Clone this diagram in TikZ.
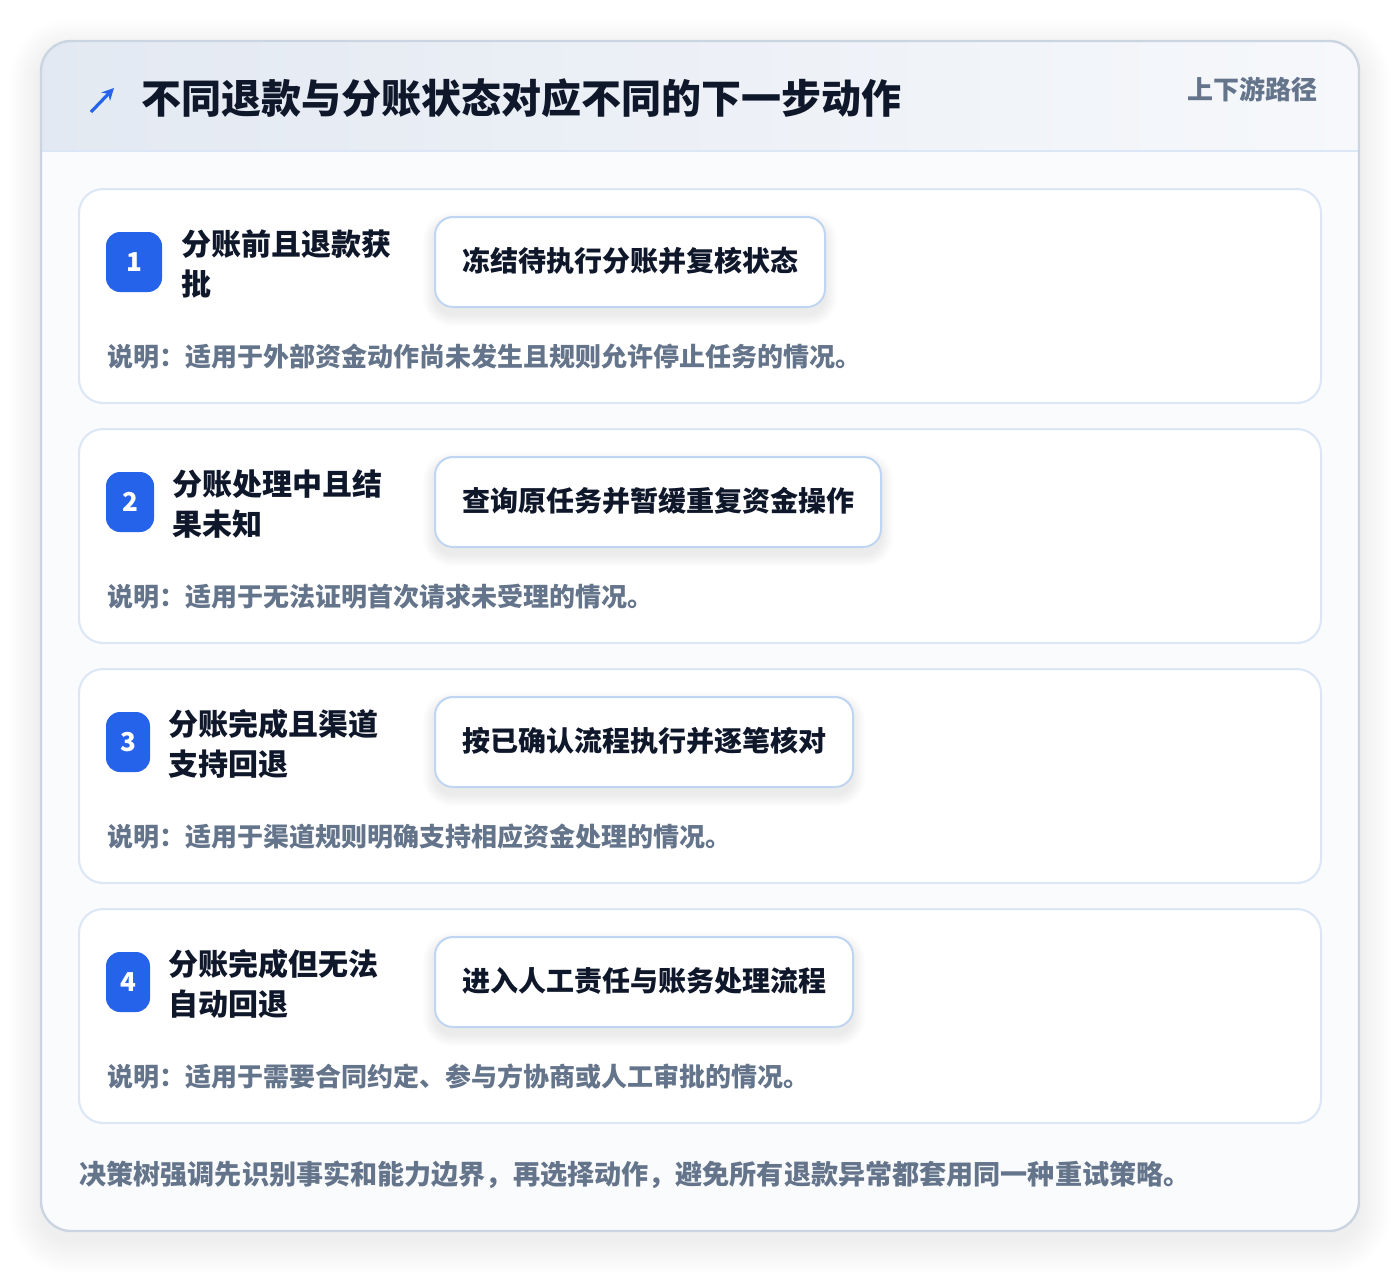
\documentclass[tikz,border=0pt]{standalone}
\usepackage{fontspec}
\setmainfont{Noto Sans CJK SC}
\usetikzlibrary{arrows.meta}
\definecolor{ink}{HTML}{0F172A}
\definecolor{muted}{HTML}{64748B}
\definecolor{badge}{HTML}{2563EB}
\definecolor{cardedge}{HTML}{CBD5E1}
\definecolor{rowedge}{HTML}{DBE7F7}
\definecolor{actedge}{HTML}{BFD5F2}
\definecolor{headL}{HTML}{E3E9F2}
\definecolor{headR}{HTML}{F6F8FB}
\definecolor{bodyfill}{HTML}{FAFBFD}
\definecolor{shadowc}{HTML}{334155}
\newcommand\mysoftshadow[5]{%
  \foreach \i in {1,...,10}{%
    \fill[shadowc, opacity=0.009, rounded corners={#5+\i*0.5pt}]
      ({#1-\i*1.2},{#2-\i*1.2+7}) rectangle ({#3+\i*1.2},{#4+\i*1.2+7});
  }%
}
\newcommand\mycardshadow[4]{%
  \foreach \i in {1,...,16}{%
    \fill[shadowc, opacity=0.0055, rounded corners={15pt+\i*1pt}]
      ({#1-\i*2},{#2-\i*2+10}) rectangle ({#3+\i*2},{#4+\i*2+10});
  }%
}
\tikzset{
  rowbox/.style={draw=rowedge, line width=1pt, fill=white, rounded corners=12pt},
  actbox/.style={draw=actedge, line width=1pt, fill=white, rounded corners=9pt},
  badgebox/.style={fill=badge, rounded corners=7pt},
  rowtitle/.style={anchor=west, inner sep=0pt, text=ink, font=\bfseries\fontsize{15pt}{20pt}\selectfont, align=left},
  acttext/.style={anchor=west, inner sep=0pt, text=ink, font=\bfseries\fontsize{14pt}{17pt}\selectfont},
  desctext/.style={anchor=west, inner sep=0pt, text=muted, font=\bfseries\fontsize{13pt}{15pt}\selectfont},
  numtext/.style={inner sep=0pt, text=white, font=\bfseries\fontsize{13pt}{14pt}\selectfont},
}
\begin{document}
\begin{tikzpicture}[x=0.5pt,y=-0.5pt]
\useasboundingbox (0,0) rectangle (1400,1274);
\fill[white] (0,0) rectangle (1400,1274);
% outer card shadow + card
\mycardshadow{41}{41}{1359}{1231}
\begin{scope}
\clip[rounded corners=15pt] (41,41) rectangle (1359,1231);
\fill[bodyfill] (41,41) rectangle (1359,1231);
\shade[left color=headL, right color=headR] (41,41) rectangle (1359,151);
\draw[rowedge, line width=1pt] (41,151) -- (1359,151);
\end{scope}
\draw[cardedge, line width=1.2pt, rounded corners=15pt] (41,41) rectangle (1359,1231);
% header
\coordinate (arrS) at (91,112);
\coordinate (arrE) at (114,88);
\draw[badge, line width=1.6pt, -{Stealth[length=6pt,width=6pt]}] (arrS) -- (arrE);
\node[anchor=west, inner sep=0pt, text=ink, font=\bfseries\fontsize{20pt}{24pt}\selectfont] (title) at (141,98) {不同退款与分账状态对应不同的下一步动作};
\node[anchor=east, inner sep=0pt, text=muted, font=\bfseries\fontsize{13pt}{15pt}\selectfont] (tag) at (1318,89) {上下游路径};
% row 1
\path[rowbox] (79,189) rectangle (1321,403);
\path[badgebox] (106,232) rectangle (162,292);
\node[numtext] (n1) at (134,262) {1};
\node[rowtitle] (t1) at (181,264) {分账前且退款获\\批};
\mysoftshadow{435}{217}{825}{307}{9pt}
\path[actbox] (435,217) rectangle (825,307);
\node[acttext] (a1) at (462,261) {冻结待执行分账并复核状态};
\node[desctext] (d1) at (107,357) {说明：适用于外部资金动作尚未发生且规则允许停止任务的情况。};
% row 2
\path[rowbox] (79,429) rectangle (1321,643);
\path[badgebox] (106,472) rectangle (154,532);
\node[numtext] (n2) at (130,502) {2};
\node[rowtitle] (t2) at (172,504) {分账处理中且结\\果未知};
\mysoftshadow{435}{457}{881}{547}{9pt}
\path[actbox] (435,457) rectangle (881,547);
\node[acttext] (a2) at (462,501) {查询原任务并暂缓重复资金操作};
\node[desctext] (d2) at (107,597) {说明：适用于无法证明首次请求未受理的情况。};
% row 3
\path[rowbox] (79,669) rectangle (1321,883);
\path[badgebox] (106,712) rectangle (150,772);
\node[numtext] (n3) at (128,742) {3};
\node[rowtitle] (t3) at (168,744) {分账完成且渠道\\支持回退};
\mysoftshadow{435}{697}{853}{787}{9pt}
\path[actbox] (435,697) rectangle (853,787);
\node[acttext] (a3) at (462,741) {按已确认流程执行并逐笔核对};
\node[desctext] (d3) at (107,837) {说明：适用于渠道规则明确支持相应资金处理的情况。};
% row 4
\path[rowbox] (79,909) rectangle (1321,1123);
\path[badgebox] (106,952) rectangle (150,1012);
\node[numtext] (n4) at (128,982) {4};
\node[rowtitle] (t4) at (168,984) {分账完成但无法\\自动回退};
\mysoftshadow{435}{937}{853}{1027}{9pt}
\path[actbox] (435,937) rectangle (853,1027);
\node[acttext] (a4) at (462,981) {进入人工责任与账务处理流程};
\node[desctext] (d4) at (107,1077) {说明：适用于需要合同约定、参与方协商或人工审批的情况。};
% footer
\node[anchor=west, inner sep=0pt, text=muted, font=\bfseries\fontsize{13.55pt}{16pt}\selectfont] (foot) at (79,1175) {决策树强调先识别事实和能力边界，再选择动作，避免所有退款异常都套用同一种重试策略。};
\end{tikzpicture}
\end{document}
